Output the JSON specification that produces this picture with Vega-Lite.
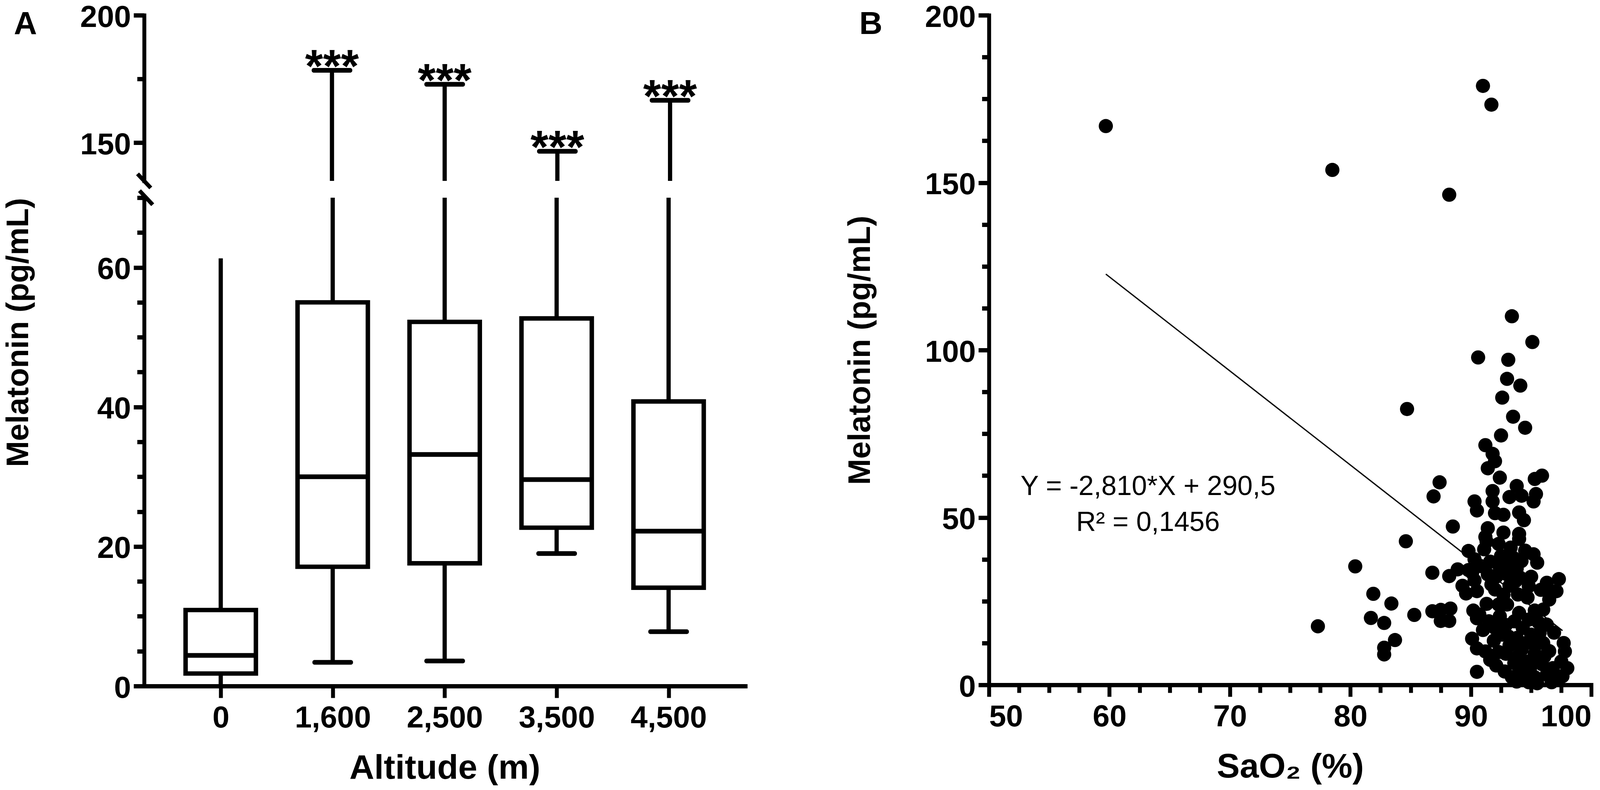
{
  "$schema": "https://vega.github.io/schema/vega-lite/v6.json",
  "background": "white",
  "padding": {"left": 7, "top": 6, "right": 0, "bottom": 0},
  "config": {
    "view": {"stroke": null},
    "font": "Liberation Sans",
    "axis": {
      "grid": false,
      "domainColor": "black",
      "domainCap": "square",
      "tickColor": "black",
      "labelFont": "Liberation Sans Narrow, Liberation Sans",
      "labelFontSize": 78,
      "labelFontWeight": "bold",
      "labelColor": "black",
      "labelOverlap": false,
      "labelBound": false,
      "labelLimit": 0,
      "titleFont": "Liberation Sans Narrow, Liberation Sans",
      "titleFontSize": 88,
      "titleFontWeight": "bold",
      "titleColor": "black",
      "titleLimit": 0
    },
    "axisX": {"domainWidth": 11, "tickWidth": 10, "tickSize": 30, "labelPadding": 13, "titlePadding": 45},
    "axisY": {"domainWidth": 10, "tickWidth": 11, "labelPadding": 7, "labelOffset": 6, "titleFont": "Liberation Sans", "titleFontSize": 80}
  },
  "datasets": {
    "boxes": [
      {"altitude": "0", "i": 0, "min": 0, "q1": 1.8, "median": 4.4, "q3": 10.9, "max": 61.3, "sig": ""},
      {"altitude": "1,600", "i": 1, "min": 3.4, "q1": 17.1, "median": 30.0, "q3": 55.0, "max": 178.4, "sig": "***"},
      {"altitude": "2,500", "i": 2, "min": 3.6, "q1": 17.6, "median": 33.2, "q3": 52.2, "max": 172.9, "sig": "***"},
      {"altitude": "3,500", "i": 3, "min": 19.0, "q1": 22.7, "median": 29.6, "q3": 52.7, "max": 146.6, "sig": "***"},
      {"altitude": "4,500", "i": 4, "min": 7.8, "q1": 14.1, "median": 22.2, "q3": 40.8, "max": 166.6, "sig": "***"}
    ],
    "panelA": [{"panel": "A", "i": -1.72, "v": 192.6}],
    "breakTop": [{"i": -0.6667, "v": 135}],
    "breakBottom": [{"i": -0.6667, "v": 70}],
    "panelB": [{"panel": "B", "sao2": 40.2, "mel": 194.4}],
    "fit": [{"sao2": 59.7, "mel": 122.7}, {"sao2": 97.6, "mel": 16.2}],
    "equation": [
      {"sao2": 63.2, "mel": 59.2, "label": "Y = -2,810*X + 290,5"},
      {"sao2": 63.2, "mel": 48.4, "label": "R² = 0,1456"}
    ],
    "scatter": [
      {"sao2": 59.7, "mel": 166.9}, {"sao2": 78.5, "mel": 153.8}, {"sao2": 91.0, "mel": 178.9}, {"sao2": 91.7, "mel": 173.3},
      {"sao2": 88.2, "mel": 146.4}, {"sao2": 77.3, "mel": 17.5},
      {"sao2": 93.4, "mel": 110.1}, {"sao2": 95.1, "mel": 102.4}, {"sao2": 90.6, "mel": 97.8}, {"sao2": 93.1, "mel": 97.1},
      {"sao2": 93.0, "mel": 91.4}, {"sao2": 94.1, "mel": 89.4}, {"sao2": 92.6, "mel": 85.8}, {"sao2": 93.5, "mel": 80.1},
      {"sao2": 94.5, "mel": 76.8}, {"sao2": 92.5, "mel": 74.5}, {"sao2": 91.2, "mel": 71.6}, {"sao2": 91.8, "mel": 69.0},
      {"sao2": 92.0, "mel": 66.8}, {"sao2": 91.4, "mel": 64.7}, {"sao2": 95.3, "mel": 61.5}, {"sao2": 95.9, "mel": 62.5},
      {"sao2": 84.7, "mel": 82.4},
      {"sao2": 92.4, "mel": 61.9}, {"sao2": 93.8, "mel": 59.4}, {"sao2": 87.4, "mel": 60.5}, {"sao2": 86.9, "mel": 56.3},
      {"sao2": 93.2, "mel": 56.1}, {"sao2": 94.2, "mel": 56.5}, {"sao2": 95.4, "mel": 57.0}, {"sao2": 95.2, "mel": 54.8},
      {"sao2": 91.8, "mel": 57.9}, {"sao2": 91.8, "mel": 54.8}, {"sao2": 90.3, "mel": 54.8}, {"sao2": 90.5, "mel": 52.1},
      {"sao2": 92.7, "mel": 50.8}, {"sao2": 92.0, "mel": 51.3}, {"sao2": 94.0, "mel": 51.5}, {"sao2": 94.4, "mel": 49.2},
      {"sao2": 91.4, "mel": 46.8}, {"sao2": 88.5, "mel": 47.3}, {"sao2": 92.7, "mel": 45.5}, {"sao2": 94.0, "mel": 45.1},
      {"sao2": 91.2, "mel": 44.2}, {"sao2": 84.6, "mel": 42.9},
      {"sao2": 80.4, "mel": 35.4}, {"sao2": 81.9, "mel": 27.2}, {"sao2": 83.4, "mel": 24.3}, {"sao2": 81.7, "mel": 20.0},
      {"sao2": 82.8, "mel": 18.5}, {"sao2": 83.7, "mel": 13.4}, {"sao2": 82.8, "mel": 11.1}, {"sao2": 82.8, "mel": 9.1},
      {"sao2": 86.8, "mel": 33.5}, {"sao2": 85.3, "mel": 20.9},
      {"sao2": 88.2, "mel": 32.5}, {"sao2": 88.9, "mel": 34.5}, {"sao2": 89.8, "mel": 34.3}, {"sao2": 89.3, "mel": 29.6},
      {"sao2": 89.6, "mel": 27.3}, {"sao2": 90.3, "mel": 31.2}, {"sao2": 90.5, "mel": 28.0},
      {"sao2": 86.8, "mel": 22.0}, {"sao2": 87.5, "mel": 22.4}, {"sao2": 88.3, "mel": 22.8}, {"sao2": 87.5, "mel": 19.1},
      {"sao2": 88.2, "mel": 19.1},
      {"sao2": 90.2, "mel": 22.2}, {"sao2": 90.5, "mel": 19.9}, {"sao2": 90.1, "mel": 13.8}, {"sao2": 90.5, "mel": 10.9},
      {"sao2": 90.5, "mel": 3.9},
      {"sao2": 91.3, "mel": 42.8}, {"sao2": 92.3, "mel": 42.1}, {"sao2": 94.0, "mel": 43.6}, {"sao2": 94.5, "mel": 40.1},
      {"sao2": 92.9, "mel": 35.5}, {"sao2": 93.8, "mel": 34.7}, {"sao2": 95.0, "mel": 32.3}, {"sao2": 97.3, "mel": 31.6},
      {"sao2": 95.8, "mel": 28.4}, {"sao2": 97.1, "mel": 28.0}, {"sao2": 94.7, "mel": 26.1}, {"sao2": 92.1, "mel": 32.3},
      {"sao2": 91.1, "mel": 40.5}, {"sao2": 90.1, "mel": 33.5}, {"sao2": 91.3, "mel": 24.2}, {"sao2": 90.7, "mel": 21.0},
      {"sao2": 92.7, "mel": 26.9}, {"sao2": 93.2, "mel": 29.6}, {"sao2": 95.3, "mel": 22.2}, {"sao2": 95.6, "mel": 18.7},
      {"sao2": 96.9, "mel": 15.6}, {"sao2": 97.7, "mel": 12.5}, {"sao2": 91.0, "mel": 16.4}, {"sao2": 91.9, "mel": 13.2},
      {"sao2": 92.9, "mel": 17.9}, {"sao2": 93.8, "mel": 14.0}, {"sao2": 94.6, "mel": 12.5}, {"sao2": 95.3, "mel": 9.3},
      {"sao2": 96.5, "mel": 10.1}, {"sao2": 97.5, "mel": 7.0}, {"sao2": 92.1, "mel": 5.8}, {"sao2": 92.9, "mel": 9.3},
      {"sao2": 94.0, "mel": 5.4}, {"sao2": 94.8, "mel": 7.0}, {"sao2": 93.4, "mel": 2.3}, {"sao2": 94.4, "mel": 1.6},
      {"sao2": 95.3, "mel": 2.3}, {"sao2": 96.3, "mel": 3.1}, {"sao2": 97.3, "mel": 2.0}, {"sao2": 95.9, "mel": 6.2},
      {"sao2": 95.5, "mel": 0.5}, {"sao2": 93.8, "mel": 1.0}, {"sao2": 96.7, "mel": 0.8}, {"sao2": 97.6, "mel": 2.6},
      {"sao2": 93.5, "mel": 38.0}, {"sao2": 92.5, "mel": 38.5}, {"sao2": 94.2, "mel": 37.0}, {"sao2": 93.0, "mel": 24.0},
      {"sao2": 94.0, "mel": 21.5}, {"sao2": 93.6, "mel": 19.0}, {"sao2": 92.4, "mel": 20.5}, {"sao2": 94.3, "mel": 17.0},
      {"sao2": 95.0, "mel": 15.0}, {"sao2": 93.2, "mel": 11.8}, {"sao2": 92.3, "mel": 9.8}, {"sao2": 94.9, "mel": 4.0},
      {"sao2": 93.9, "mel": 8.5}, {"sao2": 96.0, "mel": 12.5}, {"sao2": 96.5, "mel": 25.5}, {"sao2": 95.5, "mel": 36.5},
      {"sao2": 92.0, "mel": 28.5}, {"sao2": 93.7, "mel": 31.0}, {"sao2": 91.6, "mel": 36.8}, {"sao2": 91.7, "mel": 30.0},
      {"sao2": 96.7, "mel": 27.5},
      {"sao2": 89.8, "mel": 40.0}, {"sao2": 90.3, "mel": 37.5}, {"sao2": 90.8, "mel": 35.5}, {"sao2": 91.4, "mel": 33.0},
      {"sao2": 92.4, "mel": 35.0}, {"sao2": 93.0, "mel": 33.0}, {"sao2": 94.1, "mel": 32.0}, {"sao2": 94.8, "mel": 29.5},
      {"sao2": 93.9, "mel": 27.0}, {"sao2": 92.3, "mel": 24.0}, {"sao2": 91.5, "mel": 19.0}, {"sao2": 92.0, "mel": 17.0},
      {"sao2": 92.6, "mel": 15.0}, {"sao2": 93.1, "mel": 14.5}, {"sao2": 94.2, "mel": 10.5}, {"sao2": 95.4, "mel": 12.0},
      {"sao2": 96.1, "mel": 8.5}, {"sao2": 96.8, "mel": 5.0}, {"sao2": 95.0, "mel": 5.8}, {"sao2": 94.2, "mel": 3.2},
      {"sao2": 92.8, "mel": 4.0}, {"sao2": 91.6, "mel": 7.5}, {"sao2": 91.2, "mel": 10.0}, {"sao2": 93.6, "mel": 6.5},
      {"sao2": 95.7, "mel": 15.5}, {"sao2": 96.3, "mel": 18.0}, {"sao2": 96.0, "mel": 22.5}, {"sao2": 94.8, "mel": 19.5},
      {"sao2": 93.3, "mel": 41.0}, {"sao2": 95.2, "mel": 39.0}, {"sao2": 96.3, "mel": 30.5}, {"sao2": 97.8, "mel": 10.0},
      {"sao2": 98.0, "mel": 5.0}, {"sao2": 97.0, "mel": 1.5}, {"sao2": 94.8, "mel": 0.8}
    ]
  },
  "spacing": 253.7,
  "hconcat": [
    {
      "spacing": 43,
      "bounds": "flush",
      "vconcat": [
        {
          "width": 1538.7,
          "height": 424,
          "layer": [
            {
              "data": {"name": "boxes"},
              "mark": {"type": "rule", "clip": true, "strokeWidth": 10.8, "color": "black"},
              "encoding": {
                "x": {"field": "i", "type": "quantitative", "scale": {"domain": [-0.6667, 4.6667], "nice": false, "zero": false}, "axis": null},
                "y": {
                  "field": "q3", "type": "quantitative",
                  "scale": {"domain": [135, 200], "nice": false, "zero": false},
                  "axis": {
                    "values": [150, 175, 200],
                    "format": "d",
                    "labelExpr": "datum.value === 175 ? '' : datum.label",
                    "tickSize": {"condition": {"test": "datum.value === 175", "value": 18}, "value": 27},
                    "title": null
                  }
                },
                "y2": {"field": "max"}
              }
            },
            {
              "data": {"name": "boxes"},
              "mark": {"type": "tick", "orient": "horizontal", "size": 104, "thickness": 12, "cornerRadius": 5.5, "clip": true, "color": "black", "opacity": 1},
              "encoding": {
                "x": {"field": "i", "type": "quantitative"},
                "y": {"field": "max", "type": "quantitative"}
              }
            },
            {
              "data": {"name": "boxes"},
              "transform": [{"filter": "datum.sig !== ''"}],
              "mark": {"type": "text", "font": "Liberation Sans Narrow, Liberation Sans", "fontSize": 118, "fontWeight": "bold", "align": "center", "baseline": "alphabetic", "dy": 30, "color": "black"},
              "encoding": {
                "x": {"field": "i", "type": "quantitative"},
                "y": {"field": "max", "type": "quantitative"},
                "text": {"field": "sig"}
              }
            },
            {
              "data": {"name": "breakTop"},
              "mark": {"type": "point", "shape": "M-0.94,-1L0.94,1", "size": 1296, "filled": false, "stroke": "black", "strokeWidth": 10.5, "opacity": 1, "clip": false},
              "encoding": {
                "x": {"field": "i", "type": "quantitative"},
                "y": {"field": "v", "type": "quantitative"}
              }
            },
            {
              "data": {"name": "panelA"},
              "mark": {"type": "text", "font": "Liberation Sans Narrow, Liberation Sans", "fontSize": 82, "fontWeight": "bold", "align": "center", "baseline": "alphabetic", "color": "black", "clip": false},
              "encoding": {
                "x": {"field": "i", "type": "quantitative"},
                "y": {"field": "v", "type": "quantitative"},
                "text": {"field": "panel"}
              }
            }
          ]
        },
        {
          "width": 1538.7,
          "height": 1250,
          "layer": [
            {
              "data": {"name": "boxes"},
              "mark": {"type": "rule", "clip": true, "strokeWidth": 10.8, "color": "black"},
              "encoding": {
                "x": {
                  "field": "i", "type": "quantitative",
                  "scale": {"domain": [-0.6667, 4.6667], "nice": false, "zero": false},
                  "axis": {
                    "values": [0, 1, 2, 3, 4],
                    "labelExpr": "['0', '1,600', '2,500', '3,500', '4,500'][datum.value]",
                    "title": "Altitude (m)"
                  }
                },
                "y": {
                  "field": "q3", "type": "quantitative",
                  "scale": {"domain": [0, 70], "nice": false, "zero": false},
                  "axis": {
                    "values": [0, 5, 10, 15, 20, 25, 30, 35, 40, 45, 50, 55, 60, 65, 70],
                    "format": "d",
                    "labelExpr": "datum.value % 20 === 0 ? datum.label : ''",
                    "tickSize": {"condition": {"test": "datum.value % 20 !== 0", "value": 18}, "value": 27},
                    "title": "Melatonin (pg/mL)",
                    "titleAnchor": "end",
                    "titlePadding": 160
                  }
                },
                "y2": {"field": "max"}
              }
            },
            {
              "data": {"name": "boxes"},
              "mark": {"type": "rule", "clip": true, "strokeWidth": 10.8, "color": "black"},
              "encoding": {
                "x": {"field": "i", "type": "quantitative"},
                "y": {"field": "min", "type": "quantitative"},
                "y2": {"field": "q1"}
              }
            },
            {
              "data": {"name": "boxes"},
              "mark": {"type": "bar", "width": 180, "fill": "white", "stroke": "black", "strokeWidth": 11.4, "clip": true},
              "encoding": {
                "x": {"field": "i", "type": "quantitative"},
                "y": {"field": "q1", "type": "quantitative"},
                "y2": {"field": "q3"}
              }
            },
            {
              "data": {"name": "boxes"},
              "mark": {"type": "tick", "orient": "horizontal", "size": 180, "thickness": 12, "color": "black", "opacity": 1},
              "encoding": {
                "x": {"field": "i", "type": "quantitative"},
                "y": {"field": "median", "type": "quantitative"}
              }
            },
            {
              "data": {"name": "boxes"},
              "transform": [{"filter": "datum.min > 0"}],
              "mark": {"type": "tick", "orient": "horizontal", "size": 104, "thickness": 12, "cornerRadius": 5.5, "clip": true, "color": "black", "opacity": 1},
              "encoding": {
                "x": {"field": "i", "type": "quantitative"},
                "y": {"field": "min", "type": "quantitative"}
              }
            },
            {
              "data": {"name": "breakBottom"},
              "mark": {"type": "point", "shape": "M-0.94,-1L0.94,1", "size": 1296, "filled": false, "stroke": "black", "strokeWidth": 10.5, "opacity": 1, "clip": false},
              "encoding": {
                "x": {"field": "i", "type": "quantitative"},
                "y": {"field": "v", "type": "quantitative"}
              }
            }
          ]
        }
      ]
    },
    {
      "width": 1542.3,
      "height": 1714,
      "layer": [
        {
          "data": {"name": "fit"},
          "mark": {"type": "line", "color": "black", "strokeWidth": 3.3},
          "encoding": {
            "x": {
              "field": "sao2", "type": "quantitative",
              "scale": {"domain": [50, 100], "nice": false, "zero": false},
              "axis": {
                "values": [50, 52.5, 55, 57.5, 60, 62.5, 65, 67.5, 70, 72.5, 75, 77.5, 80, 82.5, 85, 87.5, 90, 92.5, 95, 97.5, 100],
                "format": "d",
                "labelExpr": "datum.value % 10 === 0 ? datum.label : ''",
                "tickSize": {"condition": {"test": "datum.value % 10 !== 0", "value": 20}, "value": 30},
                "title": "SaO₂ (%)"
              }
            },
            "y": {
              "field": "mel", "type": "quantitative",
              "scale": {"domain": [0, 200], "nice": false, "zero": false},
              "axis": {
                "values": [0, 12.5, 25, 37.5, 50, 62.5, 75, 87.5, 100, 112.5, 125, 137.5, 150, 162.5, 175, 187.5, 200],
                "format": "d",
                "labelExpr": "datum.value % 50 === 0 ? datum.label : ''",
                "tickSize": {"condition": {"test": "datum.value % 50 !== 0", "value": 18}, "value": 27},
                "title": "Melatonin (pg/mL)",
                "titlePadding": 124
              }
            }
          }
        },
        {
          "data": {"name": "scatter"},
          "mark": {"type": "circle", "size": 1320, "color": "black", "opacity": 1},
          "encoding": {
            "x": {"field": "sao2", "type": "quantitative"},
            "y": {"field": "mel", "type": "quantitative"}
          }
        },
        {
          "data": {"name": "equation"},
          "mark": {"type": "text", "font": "Liberation Sans", "fontSize": 70, "align": "center", "baseline": "middle", "color": "black"},
          "encoding": {
            "x": {"field": "sao2", "type": "quantitative"},
            "y": {"field": "mel", "type": "quantitative"},
            "text": {"field": "label"}
          }
        },
        {
          "data": {"name": "panelB"},
          "mark": {"type": "text", "font": "Liberation Sans Narrow, Liberation Sans", "fontSize": 82, "fontWeight": "bold", "align": "center", "baseline": "alphabetic", "color": "black", "clip": false},
          "encoding": {
            "x": {"field": "sao2", "type": "quantitative"},
            "y": {"field": "mel", "type": "quantitative"},
            "text": {"field": "panel"}
          }
        }
      ]
    }
  ]
}
